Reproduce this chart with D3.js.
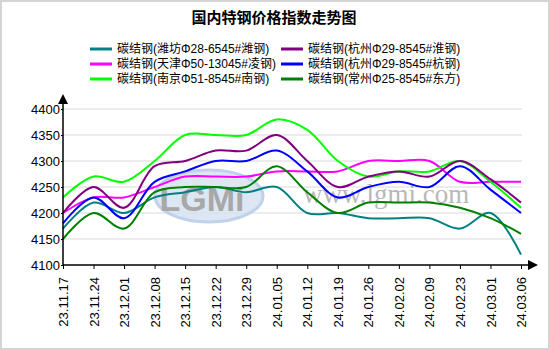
<!DOCTYPE html>
<html><head><meta charset="utf-8">
<script src="https://cdn.jsdelivr.net/npm/d3@7/dist/d3.min.js"></script>
<style>
body{margin:0;padding:0;background:#fff;}
svg{display:block;}
text{font-family:"Liberation Sans","Noto Sans CJK SC",Arial,sans-serif;}
</style></head>
<body>
<svg id="chart" width="550" height="350"></svg>
<script>
const dates = ["23.11.17","23.11.24","23.12.01","23.12.08","23.12.15","23.12.22","23.12.29","24.01.05","24.01.12","24.01.19","24.01.26","24.02.02","24.02.09","24.02.23","24.03.01","24.03.06"];
const yTicks = [4100,4150,4200,4250,4300,4350,4400];
const seriesNames = ["碳结钢(潍坊Φ28-6545#潍钢)","碳结钢(天津Φ50-13045#凌钢)","碳结钢(南京Φ51-8545#南钢)","碳结钢(杭州Φ29-8545#淮钢)","碳结钢(杭州Φ29-8545#杭钢)","碳结钢(常州Φ25-8545#东方)"];
const weifang  = [4170,4220,4200,4230,4240,4250,4240,4250,4200,4200,4190,4190,4190,4170,4200,4120];
const tianjin  = [4200,4230,4230,4250,4270,4270,4270,4280,4280,4280,4300,4300,4300,4260,4260,4260];
const nanjing  = [4230,4270,4260,4300,4350,4350,4350,4380,4360,4300,4270,4280,4280,4300,4260,4210];
const huaigang = [4200,4250,4210,4290,4300,4320,4320,4350,4300,4250,4270,4280,4270,4300,4265,4220];
const hanggang = [4180,4230,4190,4260,4280,4300,4300,4320,4280,4230,4250,4260,4250,4290,4245,4200];
const changzhou= [4150,4200,4170,4240,4250,4250,4250,4290,4240,4200,4220,4220,4220,4210,4190,4160];
const colors = ["#008080","#ff00ff","#00ff00","#800080","#0000ff","#008000"];
const seriesValues = [weifang, tianjin, nanjing, huaigang, hanggang, changzhou];

(function(){
const svg = d3.select("#chart");
svg.append("rect").attr("x",1).attr("y",1).attr("width",548).attr("height",348)
  .attr("fill","#fff").attr("stroke","#d4d4d4").attr("stroke-width",2);

const pLeft=63, pRight=521, pTop=109, pBottom=265;
const x = d3.scalePoint().domain(dates).range([pLeft,pRight]);
const y = d3.scaleLinear().domain([4100,4400]).range([pBottom,pTop]);

// title
svg.append("text").attr("x",274).attr("y",23).attr("text-anchor","middle")
  .attr("font-size",15).attr("font-weight","bold")
  .style("font-family","'Noto Sans CJK SC',sans-serif").text("国内特钢价格指数走势图");

// legend
const legPos = [[90,49],[90,64],[90,79],[281,49],[281,64],[281,79]];
seriesNames.forEach((n,i)=>{
  const g = svg.append("g").attr("transform",`translate(${legPos[i][0]},${legPos[i][1]})`);
  g.append("line").attr("x1",0).attr("x2",22).attr("y1",0).attr("y2",0)
    .attr("stroke",colors[i]).attr("stroke-width",3);
  g.append("text").attr("x",27).attr("y",0).attr("dy","0.36em").attr("font-size",12)
    .attr("fill","#000").text(n);
});

// gridlines
svg.append("g").selectAll("line").data(yTicks.filter(d=>d>4100)).join("line")
  .attr("x1",pLeft).attr("x2",pRight+1).attr("y1",d=>y(d)).attr("y2",d=>y(d))
  .attr("stroke","#d9d9d9").attr("stroke-width",1);

// watermark
const wm = svg.append("g");
wm.append("ellipse").attr("cx",209).attr("cy",196).attr("rx",54).attr("ry",26)
  .attr("fill","#d6e3f2").attr("stroke","#b5cbe6").attr("stroke-width",3).attr("opacity",0.85);
wm.append("text").attr("x",202).attr("y",211).attr("text-anchor","middle")
  .attr("font-size",34).attr("font-weight","bold").attr("fill","#a8a8a8")
  .style("font-family","'Liberation Sans',Arial,sans-serif").text("LGMi");
wm.append("text").attr("x",303).attr("y",203).attr("font-size",27)
  .style("fill","#b8b8b8").style("font-family","'Liberation Serif','DejaVu Serif',serif")
  .text("www.lgmi.com");

// lines
const line = d3.line().x((d,i)=>x(dates[i])).y(d=>y(d)).curve(d3.curveCatmullRom.alpha(0.5));
seriesValues.forEach((vals,i)=>{
  svg.append("path").attr("d",line(vals)).attr("fill","none")
    .attr("stroke",colors[i]).attr("stroke-width",2);
});

// axes
const yAxis = d3.axisLeft(y).tickValues(yTicks).tickSize(2).tickPadding(1).tickFormat(d3.format("d"));
const gy = svg.append("g").attr("transform",`translate(${pLeft},0)`).call(yAxis);
gy.select(".domain").remove();
gy.selectAll("text").attr("font-size",13).attr("fill","#000")
  .style("font-family","'Liberation Sans',Arial,sans-serif");
gy.selectAll("line").attr("stroke","#000");

const xAxis = d3.axisBottom(x).tickSize(4).tickFormat(d=>d);
const gx = svg.append("g").attr("transform",`translate(0,${pBottom})`).call(xAxis);
gx.select(".domain").remove();
gx.selectAll("line").attr("stroke","#000");
gx.selectAll("text").attr("font-size",13).attr("fill","#000")
  .style("font-family","'Liberation Sans',Arial,sans-serif")
  .attr("text-anchor","end").attr("transform","translate(0,12) rotate(-90)")
  .attr("x",0).attr("y",0).attr("dy","0.35em");

svg.append("line").attr("x1",pLeft).attr("x2",pLeft).attr("y1",pBottom).attr("y2",100)
  .attr("stroke","#000").attr("stroke-width",1.5);
svg.append("path").attr("d",`M${pLeft},94 L${pLeft-5},104 L${pLeft+5},104 Z`).attr("fill","#000");
svg.append("line").attr("x1",pLeft).attr("x2",530).attr("y1",pBottom).attr("y2",pBottom)
  .attr("stroke","#000").attr("stroke-width",1.5);
svg.append("path").attr("d",`M538,${pBottom} L528,${pBottom-5} L528,${pBottom+5} Z`).attr("fill","#000");
})();
</script>
</body></html>
